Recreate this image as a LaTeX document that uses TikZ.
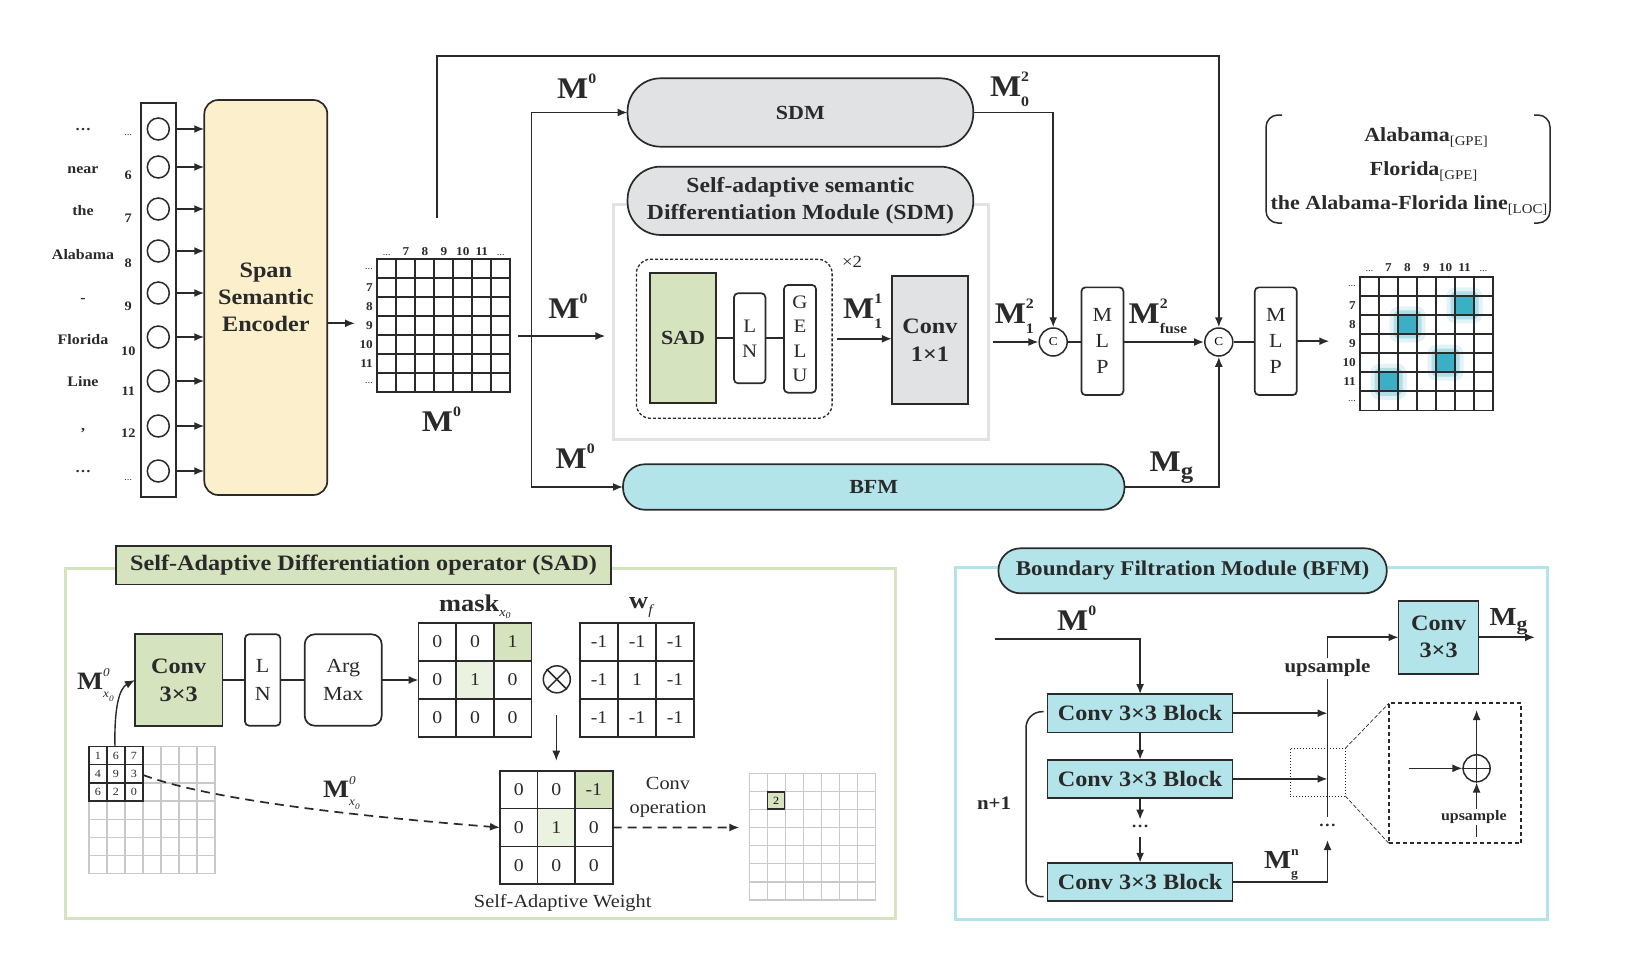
\documentclass[tikz,border=0pt]{standalone}
\usepackage{fontspec}
\setmainfont{Liberation Serif}[FakeStretch=1.1]
\usetikzlibrary{arrows.meta,calc}
\definecolor{dk}{HTML}{2A2A2A}
\definecolor{cream}{HTML}{FCEFCC}
\definecolor{gfill}{HTML}{E1E2E3}
\definecolor{grn}{HTML}{D5E3BF}
\definecolor{lgrn}{HTML}{EBF2E0}
\definecolor{cyn}{HTML}{B3E4EA}
\definecolor{teal0}{HTML}{3AAFC6}
\definecolor{frgray}{HTML}{E2E2E2}
\definecolor{lgrid}{HTML}{C9C9C9}
\newcommand{\fsz}[1]{\fontsize{#1}{#1}\selectfont}
\newcommand{\Mlab}[2]{\textbf{M}\makebox[0pt][l]{\raisebox{.5em}{\scalebox{.48}{#1}}}\raisebox{-.34em}{\scalebox{.48}{#2}}}
\newcommand{\gridmk}[7]{%
  \node[#7, inner sep=0pt, outer sep=0pt, minimum width={#4*#6}, minimum height={#5*#6}, anchor=north west] (#1) at (#2,#3) {};
  \pgfmathtruncatemacro\gm{#6-1}%
  \foreach \gi in {1,...,\gm}{%
    \draw[#7] ($(#1.north west)+(\gi*#4,0)$) -- ($(#1.south west)+(\gi*#4,0)$);
    \draw[#7] ($(#1.north west)+(0,\gi*#5)$) -- ($(#1.north east)+(0,\gi*#5)$);
  }}
\tikzset{
  ln/.style={draw=dk, line width=1.7pt},
  arr/.style={draw=dk, line width=1.7pt, -{Latex[length=10pt,width=8pt]}},
  box/.style={draw=dk, line width=1.7pt, inner sep=0pt, outer sep=0pt, align=center, text=dk},
  lab/.style={anchor=base west, inner sep=0pt, text=dk},
  txt/.style={inner sep=0pt, text=dk, align=center},
}
\begin{document}
\begin{tikzpicture}[x=1pt,y=-1pt]
\useasboundingbox[fill=white] (0,0) rectangle (1629,961);

% ---------- token column ----------
\node[box, minimum width=35pt, minimum height=394pt] (col) at (158.5,300) {};
\node[box, rounded corners=14pt, fill=cream, minimum width=123pt, minimum height=395pt,
      font=\fontsize{22}{27}\selectfont\bfseries] (enc) at (265.8,297.5) {Span\\Semantic\\Encoder};
\foreach \cy/\wy/\w/\ny/\nn [count=\i] in {129/130.7/\ldots/135/{\fsz{7}\ldots},
   167/173.3/near/179.3/6, 209/215.7/the/222.3/7, 251/259.3/Alabama/267.3/8,
   293/302/-/310.7/9, 337/344/Florida/355/10, 381/386.7/Line/395/11,
   426/430/{,}/437.3/12, 471/472.3/\ldots/480/{\fsz{7}\ldots}}{
  \node[circle, draw=dk, line width=1.5pt, minimum size=22pt, inner sep=0pt] (t\i) at (158.3,\cy) {};
  \node[txt, anchor=base, font=\fsz{14.5}\bfseries] (w\i) at (83,\wy) {\w};
  \node[txt, anchor=base, font=\fsz{13}\bfseries] (n\i) at (128.3,\ny) {\nn};
  \draw[arr] (t\i.east -| col.east) -- (t\i.east -| enc.west);
}

% ---------- matrix M0 ----------
\gridmk{m0}{377.3}{259.3}{19}{19}{7}{draw=dk, line width=1.7pt}
\foreach \t [count=\k from 0] in {{\fsz{7}\ldots},7,8,9,10,11,{\fsz{7}\ldots}}{
  \node[txt, anchor=base, font=\fsz{12}\bfseries] (m0c\k) at ({377.3+(\k+0.5)*19},255) {\t};
  \node[txt, anchor=east, font=\fsz{12}\bfseries] (m0r\k) at (373,{259.3+(\k+0.5)*19}) {\t};
}
\coordinate (m0in) at (355,323.3);
\draw[arr] (enc.east |- m0in) -- (m0in);
\node[lab, font=\fsz{30}\bfseries] (m0lab) at (421.7,431.7) {\Mlab{0}{}};

% ---------- middle pipeline ----------
\coordinate (tstart) at (436.7,218.3);
\coordinate (ttop) at (436.7,56);
\coordinate (mout) at (518.3,336);
\coordinate (split) at (531.5,336);
\coordinate (sdmin) at (605.4,336);

\node[draw=frgray, line width=3pt, minimum width=375pt, minimum height=235.3pt, inner sep=0pt, outer sep=0pt] (sdmframe) at (801.1,321.7) {};
\node[box, fill=gfill, rounded corners=33pt, minimum width=345.7pt, minimum height=68.4pt, font=\fsz{20}\bfseries] (sdm) at (800.4,112.5) {SDM};
\node[box, fill=gfill, rounded corners=33pt, minimum width=345.7pt, minimum height=68.3pt,
      font=\fontsize{21.5}{27}\selectfont\bfseries] (sdmt) at (800.4,200.8) {Self-adaptive semantic\\Differentiation Module (SDM)};
\node[draw=dk, line width=1.3pt, dash pattern=on 3pt off 2pt, rounded corners=14pt, minimum width=195.7pt, minimum height=159pt, inner sep=0pt, outer sep=0pt] (rep) at (734.25,338.8) {};
\node[txt, font=\fsz{17}] (x2) at (852,262) {×2};
\node[box, fill=grn, minimum width=66pt, minimum height=130pt, font=\fsz{20}\bfseries] (sad) at (683,338.3) {SAD};
\node[box, rounded corners=4pt, minimum width=31.4pt, minimum height=90pt, font=\fontsize{19}{25}\selectfont] (ln1) at (749.7,338.3) {L\\N};
\node[box, rounded corners=4pt, minimum width=32pt, minimum height=107.7pt, font=\fontsize{19}{24.5}\selectfont] (gelu) at (800,338.8) {G\\E\\L\\U};
\draw[ln] (sad.east) -- (ln1.west);
\draw[ln] (ln1.east) -- (ln1.east -| gelu.west);
\node[box, fill=gfill, minimum width=76pt, minimum height=128pt, font=\fontsize{22}{28}\selectfont\bfseries] (conv11) at (929.9,340) {Conv\\1×1};
\draw[arr] ($(rep.east)+(5,0)$) -- (rep.east -| conv11.west);
\node[lab, font=\fsz{30}\bfseries] (m11) at (842.9,318.3) {\Mlab{1}{1}};

\node[circle, draw=dk, line width=1.5pt, minimum size=28pt, inner sep=0pt, fill=white, font=\fsz{12}] (c1) at (1053.2,342) {C};
\coordinate (c1in) at (992.9,342);
\draw[arr] (c1in) -- (c1.west);
\node[lab, font=\fsz{30}\bfseries] (m12) at (994.6,323.3) {\Mlab{2}{1}};
\draw[arr] (sdm.east) -| (c1.north);
\node[lab, font=\fsz{30}\bfseries] (m02) at (989.8,96.7) {\Mlab{2}{0}};

\node[box, rounded corners=4pt, minimum width=42pt, minimum height=107.7pt, font=\fontsize{20}{26}\selectfont] (mlp1) at (1102.4,341.2) {M\\L\\P};
\draw[ln] (c1.east) -- (c1.east -| mlp1.west);
\node[circle, draw=dk, line width=1.5pt, minimum size=28pt, inner sep=0pt, fill=white, font=\fsz{12}] (c2) at (1218.8,342) {C};
\draw[arr] (mlp1.east |- c2.west) -- (c2.west);
\node[lab, font=\fsz{30}\bfseries] (mfuse) at (1128.4,323.3) {\Mlab{2}{fuse}};
\node[box, rounded corners=4pt, minimum width=42pt, minimum height=107.7pt, font=\fontsize{20}{26}\selectfont] (mlp2) at (1275.8,341.2) {M\\L\\P};
\draw[ln] (c2.east) -- (c2.east -| mlp2.west);
\coordinate (outp) at (1329.3,341.2);
\draw[arr] (mlp2.east) -- (outp);

\draw[arr] (tstart) -- (ttop) -| (c2.north);

\node[box, fill=cyn, rounded corners=22pt, minimum width=501.5pt, minimum height=45.5pt, font=\fsz{20}\bfseries] (bfm) at (873.75,487) {BFM};
\draw[arr] (bfm.east) -| (c2.south);
\node[lab, font=\fsz{30}\bfseries] (mg) at (1149.4,471.7) {M\raisebox{-.22em}{\scalebox{.75}{g}}};

\node[lab, font=\fsz{30}\bfseries] (m0a) at (557,98.3) {\Mlab{0}{}};
\node[lab, font=\fsz{30}\bfseries] (m0b) at (548.2,318.3) {\Mlab{0}{}};
\node[lab, font=\fsz{30}\bfseries] (m0c) at (555.4,468.3) {\Mlab{0}{}};
\draw[arr] (mout) -- (sdmin);
\draw[arr] (split) |- (sdm.west);
\draw[arr] (split) |- (bfm.west);

% ---------- output grid ----------
\foreach \c/\r in {5/1,2/2,4/4,1/5}{
  \pgfmathsetmacro\cx{1360+(\c+0.5)*19}
  \pgfmathsetmacro\cy{276.7+(\r+0.5)*19.1}
  \fill[teal0, opacity=.15, rounded corners=9pt] (\cx-18,\cy-18) rectangle (\cx+18,\cy+18);
  \fill[teal0, opacity=.3, rounded corners=6pt] (\cx-14,\cy-14) rectangle (\cx+14,\cy+14);
  \fill[teal0] (\cx-10,\cy-10) rectangle (\cx+10,\cy+10);
}
\gridmk{og}{1360}{276.7}{19}{19.1}{7}{draw=dk, line width=1.7pt}
\foreach \t [count=\k from 0] in {{\fsz{7}\ldots},7,8,9,10,11,{\fsz{7}\ldots}}{
  \node[txt, anchor=base, font=\fsz{12}\bfseries] (ogc\k) at ({1360+(\k+0.5)*19},271.5) {\t};
  \node[txt, anchor=east, font=\fsz{12}\bfseries] (ogr\k) at (1356,{276.7+(\k+0.5)*19.1}) {\t};
}

% ---------- entity list ----------
\draw[ln, line width=1.5pt, rounded corners=12pt] (1282,115) -- (1266,115) -- (1266,223) -- (1282,223);
\draw[ln, line width=1.5pt, rounded corners=12pt] (1534,115) -- (1550,115) -- (1550,223) -- (1534,223);
\node[txt, anchor=base, font=\fsz{20}\bfseries] (e1) at (1426,141.7) {Alabama\raisebox{-4pt}{\fsz{13.5}\mdseries[GPE]}};
\node[txt, anchor=base, font=\fsz{20}\bfseries] (e2) at (1423.6,175) {Florida\raisebox{-4pt}{\fsz{13.5}\mdseries[GPE]}};
\node[txt, anchor=base, font=\fsz{20}\bfseries] (e3) at (1409,209.3) {the Alabama-Florida line\raisebox{-4pt}{\fsz{13.5}\mdseries[LOC]}};

% ---------- SAD panel ----------
\node[draw=grn, line width=3pt, minimum width=830.3pt, minimum height=350pt, inner sep=0pt, outer sep=0pt] (sadframe) at (480.35,743.3) {};
\node[box, fill=grn, minimum width=495pt, minimum height=38.3pt, font=\fsz{22}\bfseries] (sadt) at (363.5,565.2) {Self-Adaptive Differentiation operator (SAD)};
\node[box, fill=grn, minimum width=87.4pt, minimum height=91.4pt, font=\fontsize{22}{28}\selectfont\bfseries] (cv3) at (178.7,680) {Conv\\3×3};
\node[box, rounded corners=4pt, minimum width=35.3pt, minimum height=91.4pt, font=\fontsize{20}{28}\selectfont] (ln2) at (262.7,680) {L\\N};
\node[box, rounded corners=10pt, minimum width=77pt, minimum height=91.4pt, font=\fontsize{20}{28}\selectfont] (am) at (343.2,680) {Arg\\Max};
\draw[ln] (cv3.east) -- (ln2.west);
\draw[ln] (ln2.east) -- (am.west);

\fill[grn] (493.8,622.7) rectangle (531.3,660.7);
\fill[lgrn] (456.2,660.7) rectangle (493.8,698.7);
\gridmk{mk}{418.6}{622.7}{37.6}{38}{3}{draw=dk, line width=1.7pt}
\foreach \v [count=\k from 0] in {0,0,1,0,1,0,0,0,0}{
  \pgfmathtruncatemacro\r{div(\k,3)}\pgfmathtruncatemacro\c{mod(\k,3)}
  \node[txt, font=\fsz{18}] (mkv\k) at ({418.6+(\c+0.5)*37.6},{622.7+(\r+0.5)*38}) {\v};
}
\draw[arr] (am.east) -- (am.east -| mk.west);
\node[lab, font=\fsz{24}\bfseries] (mkl) at (439,611.7) {mask\raisebox{-5pt}{\fsz{13}\mdseries\itshape x\raisebox{-2pt}{\fsz{9}0}}};
\node[circle, draw=dk, line width=1.5pt, minimum size=27pt, inner sep=0pt] (ot) at (556.8,679.3) {};
\draw[dk, line width=1.5pt] (ot.north west) -- (ot.south east) (ot.north east) -- (ot.south west);
\gridmk{wf}{580}{622.7}{38}{38}{3}{draw=dk, line width=1.7pt}
\foreach \v [count=\k from 0] in {-1,-1,-1,-1,1,-1,-1,-1,-1}{
  \pgfmathtruncatemacro\r{div(\k,3)}\pgfmathtruncatemacro\c{mod(\k,3)}
  \node[txt, font=\fsz{18}] (wfv\k) at ({580+(\c+0.5)*38},{622.7+(\r+0.5)*38}) {\v};
}
\node[lab, font=\fsz{24}\bfseries] (wfl) at (629,608.3) {w\raisebox{-6pt}{\fsz{14}\mdseries\itshape f}};
\coordinate (dn1) at (556.3,715);
\coordinate (dn2) at (556.3,760.7);
\draw[arr, line width=1.4pt] (dn1) -- (dn2);

\fill[grn] (575.1,770.7) rectangle (612.6,808.6);
\fill[lgrn] (537.5,808.6) rectangle (575.1,846.5);
\gridmk{saw}{500}{770.7}{37.55}{37.87}{3}{draw=dk, line width=1.7pt}
\foreach \v [count=\k from 0] in {0,0,-1,0,1,0,0,0,0}{
  \pgfmathtruncatemacro\r{div(\k,3)}\pgfmathtruncatemacro\c{mod(\k,3)}
  \node[txt, font=\fsz{18}] (sawv\k) at ({500+(\c+0.5)*37.55},{770.7+(\r+0.5)*37.87}) {\v};
}
\node[txt, font=\fsz{18.5}] (sawl) at (562.7,902.7) {Self-Adaptive Weight};
\node[txt, font=\fontsize{18.5}{24}\selectfont] (cop) at (668,797) {Conv\\operation};
\coordinate (sgin) at (739.4,827.5);
\draw[arr, dash pattern=on 9pt off 6pt] (saw.east) -- (sgin);

\gridmk{sg}{749.2}{773.3}{18}{18.1}{7}{draw=lgrid, line width=1.2pt}
\node[draw=dk, fill=grn, line width=1.3pt, minimum size=17pt, inner sep=0pt, font=\fsz{11}] (two) at (776.2,800.4) {2};

\gridmk{ig}{89}{746.7}{18}{18.1}{7}{draw=lgrid, line width=1.2pt}
\foreach \v [count=\k from 0] in {1,6,7,4,9,3,6,2,0}{
  \pgfmathtruncatemacro\r{div(\k,3)}\pgfmathtruncatemacro\c{mod(\k,3)}
  \node[draw=dk, line width=1.2pt, minimum width=18pt, minimum height=18.1pt, inner sep=0pt, font=\fsz{11}, text=dk] (igv\k) at ({89+(\c+0.5)*18},{746.7+(\r+0.5)*18.1}) {\v};
}
\coordinate (igtop) at (115,746.7);
\coordinate (igc) at (143.2,775);
\draw[arr, line width=1.4pt] (igtop) .. controls (114,705) and (120,688) .. (cv3.west);
\draw[arr, dash pattern=on 9pt off 6pt] (igc) .. controls (215,802) and (380,818) .. (saw.west);
\node[lab, font=\fsz{25}\bfseries] (mx1) at (77,689.3) {\Mlab{\mdseries\itshape 0}{\mdseries\itshape x\raisebox{-.3em}{\scalebox{.7}{0}}}};
\node[lab, font=\fsz{25}\bfseries] (mx2) at (323,797.3) {\Mlab{\mdseries\itshape 0}{\mdseries\itshape x\raisebox{-.3em}{\scalebox{.7}{0}}}};

% ---------- BFM panel ----------
\node[draw=cyn, line width=3pt, minimum width=591.2pt, minimum height=352pt, inner sep=0pt, outer sep=0pt] (bfmframe) at (1251.4,743.3) {};
\node[box, fill=cyn, rounded corners=22pt, minimum width=388.3pt, minimum height=45pt, font=\fsz{21}\bfseries] (bfmt) at (1192.6,570.8) {Boundary Filtration Module (BFM)};
\node[lab, font=\fsz{30}\bfseries] (m0d) at (1057,630.7) {\Mlab{0}{}};
\coordinate (bin) at (995.4,639.3);
\node[box, fill=cyn, minimum width=185pt, minimum height=38.3pt, font=\fsz{22}\bfseries] (b1) at (1140.1,713.2) {Conv 3×3 Block};
\node[box, fill=cyn, minimum width=185pt, minimum height=38.3pt, font=\fsz{22}\bfseries] (b2) at (1140.1,778.9) {Conv 3×3 Block};
\node[box, fill=cyn, minimum width=185pt, minimum height=38.3pt, font=\fsz{22}\bfseries] (b3) at (1140.1,881.9) {Conv 3×3 Block};
\draw[arr] (bin) -| (b1.north);
\draw[arr] (b1.south) -- (b2.north);
\node[txt, font=\fsz{16}\bfseries] (vd) at (1140.1,826.7) {\ldots};
\draw[arr] (b2.south) -- ($(vd)+(0,-7)$);
\draw[arr] ($(vd)+(0,10)$) -- (b3.north);
\draw[ln, line width=1.5pt, rounded corners=16pt] (1043.6,711.7) -- (1026,711.7) -- (1026,896.7) -- (1043.6,896.7);
\node[txt, font=\fsz{19}\bfseries] (np1) at (994,803.3) {n+1};

\coordinate (vbot) at (1327.5,816.7);
\coordinate (vtop) at (1327.5,637.3);
\node[box, fill=cyn, minimum width=80pt, minimum height=73.3pt, font=\fontsize{22}{27}\selectfont\bfseries] (cvb) at (1438.6,637.3) {Conv\\3×3};
\draw[arr] (vbot) -- (vtop) -- (cvb.west);
\node[txt, fill=white, inner sep=2pt, font=\fsz{19}\bfseries] (ups) at (1327.5,668.3) {upsample};
\draw[arr] (b1.east) -- (b1.east -| vbot);
\draw[arr] (b2.east) -- (b2.east -| vbot);
\node[txt, font=\fsz{16}\bfseries] (vd2) at (1327.5,825) {\ldots};
\draw[arr] (b3.east) -| ($(vd2)+(0,15)$);
\node[lab, font=\fsz{26}\bfseries] (mgn) at (1264,868.3) {\Mlab{n}{g}};

\node[draw=dk, line width=1pt, dotted, minimum width=55.3pt, minimum height=47.7pt, inner sep=0pt, outer sep=0pt] (zs) at (1317.65,772.15) {};
\node[draw=dk, line width=1.8pt, dash pattern=on 4pt off 3pt, minimum width=132.5pt, minimum height=140pt, inner sep=0pt, outer sep=0pt] (zb) at (1455.05,773.3) {};
\draw[dk, line width=.7pt, dash pattern=on 4pt off 2pt] (zs.north east) -- (zb.north west) (zs.south east) -- (zb.south west);
\node[circle, draw=dk, line width=1.5pt, minimum size=27pt, inner sep=0pt] (op) at (1476.6,768.3) {};
\draw[dk, line width=1.5pt] (op.north) -- (op.south) (op.west) -- (op.east);
\coordinate (opin) at (1408.6,768.3);
\coordinate (opout) at (1476.6,710);
\coordinate (opb) at (1476.6,837);
\draw[arr, line width=1.4pt] (opin) -- (op.west);
\draw[arr, line width=1.4pt] (op.north) -- (opout);
\draw[arr, line width=1.4pt] (opb) -- (op.south);
\node[txt, fill=white, inner sep=1.5pt, font=\fsz{14.5}\bfseries] (ups2) at (1473.8,816.7) {upsample};
\coordinate (mgout) at (1535,637.3);
\draw[arr] (cvb.east) -- (mgout);
\node[lab, font=\fsz{26}\bfseries] (mg2) at (1489.5,625) {M\raisebox{-.22em}{\scalebox{.75}{g}}};
\end{tikzpicture}
\end{document}
